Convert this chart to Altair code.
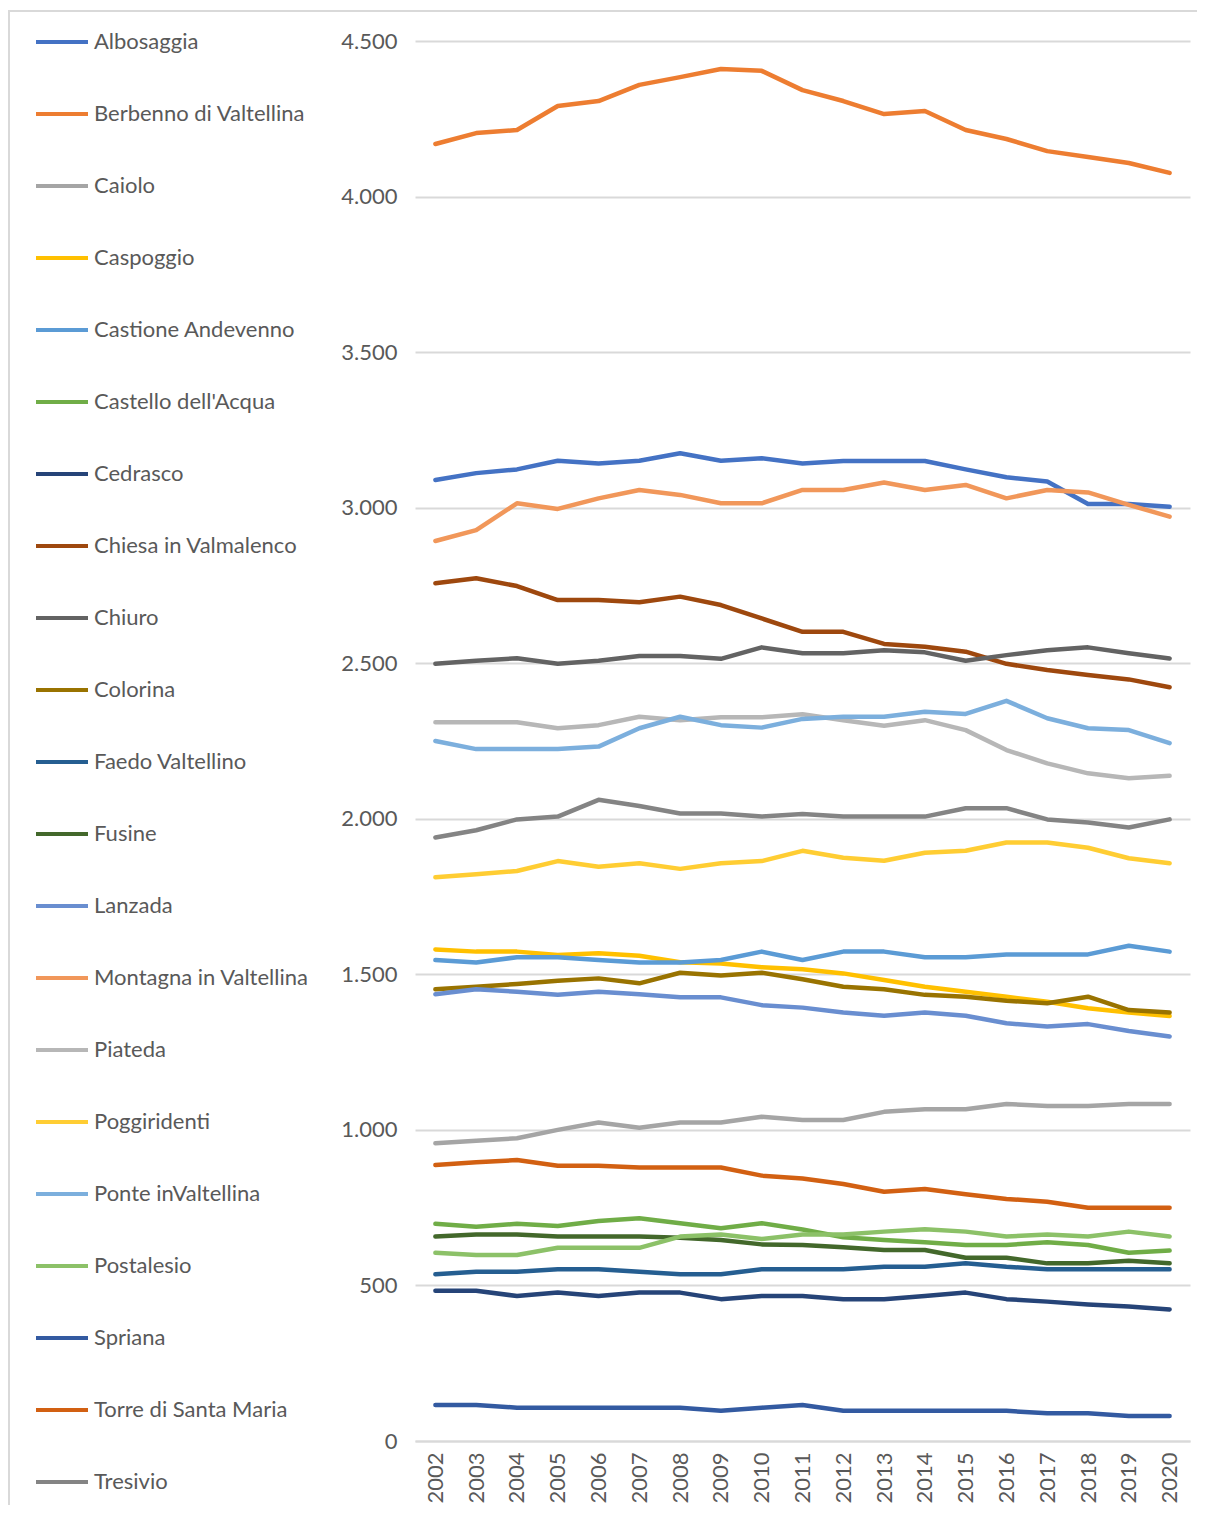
import altair as alt
import pandas as pd

years = [2002, 2003, 2004, 2005, 2006, 2007, 2008, 2009, 2010, 2011,
         2012, 2013, 2014, 2015, 2016, 2017, 2018, 2019, 2020]

names = ["Albosaggia", "Berbenno di Valtellina", "Caiolo", "Caspoggio",
         "Castione Andevenno", "Castello dell'Acqua", "Cedrasco",
         "Chiesa in Valmalenco", "Chiuro", "Colorina", "Faedo Valtellino",
         "Fusine", "Lanzada", "Montagna in Valtellina", "Piateda",
         "Poggiridenti", "Ponte inValtellina", "Postalesio", "Spriana",
         "Torre di Santa Maria", "Tresivio"]

colors = ["#4472C4", "#ED7D31", "#A5A5A5", "#FFC000", "#5B9BD5", "#70AD47",
          "#264478", "#9E480E", "#636363", "#997300", "#255E91", "#43682B",
          "#698ED0", "#F1975A", "#B7B7B7", "#FFCD33", "#7CAFDD", "#8CC168",
          "#335AA1", "#D26012", "#848484"]

albosaggia = [3089, 3111, 3123, 3151, 3142, 3151, 3175, 3151, 3159, 3142, 3150, 3150, 3150, 3123, 3098, 3084, 3012, 3012, 3003]
berbenno = [4169, 4204, 4214, 4291, 4307, 4359, 4384, 4410, 4404, 4342, 4307, 4265, 4275, 4214, 4185, 4146, 4127, 4108, 4076]
caiolo = [957, 965, 973, 1000, 1024, 1007, 1024, 1024, 1042, 1032, 1032, 1058, 1066, 1066, 1083, 1077, 1077, 1083, 1083]
caspoggio = [1580, 1573, 1573, 1562, 1568, 1560, 1539, 1535, 1523, 1516, 1503, 1482, 1460, 1444, 1428, 1412, 1391, 1377, 1366]
castione = [1546, 1538, 1555, 1555, 1546, 1538, 1538, 1546, 1573, 1546, 1573, 1573, 1555, 1555, 1564, 1564, 1564, 1592, 1573]
castello = [698, 689, 698, 691, 707, 716, 700, 684, 700, 680, 655, 646, 639, 630, 630, 639, 630, 605, 612]
cedrasco = [483, 483, 466, 477, 466, 477, 477, 456, 466, 466, 456, 456, 466, 477, 456, 448, 439, 432, 423]
chiesa = [2757, 2773, 2748, 2703, 2703, 2696, 2714, 2687, 2644, 2601, 2601, 2562, 2553, 2537, 2498, 2478, 2462, 2448, 2423]
chiuro = [2498, 2508, 2516, 2498, 2508, 2523, 2523, 2514, 2551, 2532, 2532, 2542, 2535, 2508, 2526, 2542, 2551, 2532, 2515]
colorina = [1452, 1460, 1469, 1479, 1487, 1471, 1505, 1496, 1505, 1484, 1460, 1452, 1434, 1428, 1415, 1407, 1428, 1385, 1377]
faedo = [536, 544, 544, 552, 552, 544, 536, 536, 552, 552, 552, 560, 560, 571, 560, 552, 552, 552, 552]
fusine = [657, 664, 664, 657, 657, 657, 653, 646, 632, 630, 623, 614, 614, 589, 589, 571, 571, 579, 571]
lanzada = [1436, 1452, 1444, 1434, 1444, 1436, 1426, 1426, 1401, 1393, 1377, 1367, 1377, 1367, 1343, 1332, 1340, 1318, 1300]
montagna = [2893, 2928, 3014, 2996, 3030, 3057, 3041, 3014, 3014, 3057, 3057, 3081, 3057, 3073, 3030, 3057, 3049, 3009, 2971]
piateda = [2310, 2310, 2310, 2291, 2301, 2328, 2317, 2326, 2326, 2336, 2317, 2299, 2317, 2285, 2221, 2178, 2146, 2130, 2138]
poggiridenti = [1812, 1822, 1832, 1864, 1846, 1857, 1839, 1857, 1864, 1897, 1875, 1865, 1891, 1897, 1924, 1924, 1907, 1873, 1857]
ponte = [2250, 2224, 2224, 2224, 2232, 2291, 2328, 2301, 2293, 2321, 2328, 2328, 2344, 2337, 2379, 2323, 2291, 2285, 2243]
postalesio = [605, 598, 598, 621, 621, 621, 657, 664, 649, 664, 664, 673, 681, 673, 657, 664, 657, 673, 657]
spriana = [116, 116, 107, 107, 107, 107, 107, 97, 107, 116, 97, 97, 97, 97, 97, 89, 89, 80, 80]
torre = [887, 896, 903, 885, 885, 879, 879, 879, 853, 844, 826, 801, 810, 793, 778, 769, 750, 750, 750]
tresivio = [1940, 1963, 1998, 2007, 2061, 2041, 2017, 2017, 2007, 2015, 2007, 2007, 2007, 2034, 2034, 1998, 1988, 1972, 1998]

series = [albosaggia, berbenno, caiolo, caspoggio, castione, castello, cedrasco,
          chiesa, chiuro, colorina, faedo, fusine, lanzada, montagna, piateda,
          poggiridenti, ponte, postalesio, spriana, torre, tresivio]

rows = []
for i, (name, vals) in enumerate(zip(names, series)):
    for y, v in zip(years, vals):
        rows.append({"Comune": name, "Anno": str(y), "Abitanti": v, "ord": i})
df = pd.DataFrame(rows)

FONT = "Lato"
TXT = "#595959"
GRID = "#D9D9D9"

lines = alt.Chart(df).mark_line(strokeWidth=4.5, strokeCap="round", strokeJoin="round").encode(
    x=alt.X("Anno:O", title=None, sort=[str(y) for y in years],
            scale=alt.Scale(type="point", padding=0.5),
            axis=alt.Axis(labelAngle=270, labelFontSize=22, labelColor=TXT, labelFont=FONT,
                          ticks=False, domain=True, domainColor=GRID, domainWidth=2,
                          grid=False, labelPadding=11)),
    y=alt.Y("Abitanti:Q", title=None,
            scale=alt.Scale(domain=[0, 4500], nice=False),
            axis=alt.Axis(values=list(range(0, 4501, 500)),
                          labelExpr="replace(format(datum.value, ','), ',', '.')",
                          labelFontSize=22, labelColor=TXT, labelFont=FONT,
                          labelPadding=18, ticks=False, domain=False,
                          grid=True, gridColor=GRID, gridWidth=2)),
    color=alt.Color("Comune:N", sort=names,
                    scale=alt.Scale(domain=names, range=colors),
                    legend=alt.Legend(title=None, orient="none", legendX=-381, legendY=-27,
                                      symbolType="stroke", symbolSize=2704, symbolStrokeWidth=4,
                                      labelFontSize=22, labelColor=TXT, labelFont=FONT,
                                      labelOffset=4, rowPadding=33, padding=0,
                                      labelLimit=400, direction="vertical")),
    order=alt.Order("ord:Q"),
)

border = alt.Chart(pd.DataFrame({"a": [0]})).mark_rect(
    fill="transparent", stroke=GRID, strokeWidth=2
).encode(
    x=alt.value(-406), x2=alt.value(820), y=alt.value(-30), y2=alt.value(1530)
)

chart = alt.layer(border, lines).properties(
    width=775, height=1400,
    autosize=alt.AutoSizeParams(type="none"),
    padding={"left": 407, "top": 33, "right": 7, "bottom": 64},
).configure(font=FONT).configure_view(stroke="transparent", strokeWidth=0)

chart.save("out.html", embed_options={"renderer": "svg", "actions": False})
